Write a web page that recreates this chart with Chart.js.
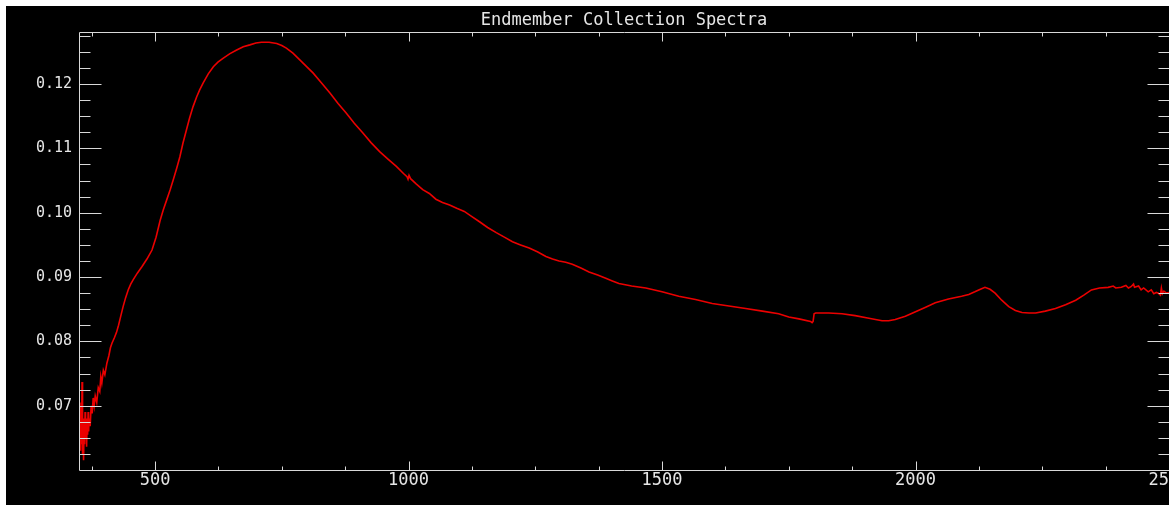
<!DOCTYPE html>
<html>
<head>
<meta charset="utf-8">
<script src="https://cdn.jsdelivr.net/npm/chart.js@4/dist/chart.umd.min.js"></script>
<style>
  html, body { margin: 0; padding: 0; background: #ffffff; overflow: hidden; width: 1169px; height: 505px; }
  #frame { position: absolute; left: 6px; top: 6px; width: 1163px; height: 499px; background: #000000; overflow: hidden; }
  #c { position: absolute; left: 0; top: 0; }
</style>
</head>
<body>
<div id="frame"><canvas id="c" width="1200" height="499" style="width:1200px;height:499px"></canvas></div>
<script>
// ---- data ----
const titleText = 'Endmember Collection Spectra';
const wavelengths = [
  350,351,352,353,354,355,356,357,358,359,360,361,362,363,364,365,366,367,368,369,370,
  372,374,376,378,380,382,385,388,391,393,395,398,401,405,409,412,415,420,424,428,432,
  437,442,447,452,457,465,474,484,494,502,510,516,523,530,537,543,549,555,562,568,575,
  582,588,595,605,615,624,634,647,661,674,687,699,710,725,740,750,759,772,785,798,812,
  828,845,861,877,893,910,926,943,960,976,990,997,999,1001,1004,1015,1028,1041,1054,1067,
  1081,1095,1110,1125,1140,1156,1173,1189,1205,1221,1238,1255,1271,1284,1297,1310,1323,
  1340,1356,1373,1389,1402,1415,1440,1468,1500,1533,1566,1599,1632,1665,1698,1730,1750,
  1770,1793,1796,1798,1800,1803,1829,1855,1881,1908,1934,1947,1960,1980,2000,2020,2039,
  2065,2091,2105,2117,2128,2137,2147,2157,2170,2184,2197,2210,2224,2237,2256,2276,2296,
  2316,2332,2347,2363,2380,2390,2395,2406,2415,2420,2425,2430,2432,2440,2445,2450,2459,
  2465,2470,2475,2479,2483,2485,2487,2490,2495,2500
];
const reflectance = [
  0.0700,0.0655,0.0690,0.0630,0.0705,0.0640,0.0737,0.0625,0.0680,0.0615,0.0665,0.0640,0.0690,0.0650,0.0680,0.0636,0.0672,0.0655,0.0690,0.0660,0.0680,
  0.0668,0.0700,0.0688,0.0712,0.0700,0.0715,0.0705,0.0728,0.0722,0.0745,0.0735,0.0755,0.0748,0.0766,0.0778,0.0790,0.0797,0.0806,0.0814,0.0825,0.0838,
  0.0854,0.0868,0.0880,0.0889,0.0896,0.0906,0.0916,0.0928,0.0942,0.0962,0.0988,0.1004,0.1020,0.1036,0.1054,0.1070,0.1087,0.1108,0.1129,0.1147,0.1165,
  0.1180,0.1191,0.1202,0.1216,0.1227,0.1234,0.1240,0.1247,0.1253,0.1258,0.1261,0.1264,0.1265,0.1265,0.1263,0.1260,0.1256,0.1248,0.1238,0.1228,0.1217,
  0.1202,0.1186,0.1170,0.1155,0.1139,0.1124,0.1109,0.1095,0.1083,0.1072,0.1061,0.1056,0.1052,0.1058,0.1053,0.1045,0.1036,0.1030,0.1021,0.1016,
  0.1012,0.1007,0.1002,0.0994,0.0986,0.0977,0.0969,0.0962,0.0955,0.0950,0.0945,0.0939,0.0932,0.0928,0.0925,0.0923,0.0920,
  0.0914,0.0908,0.0903,0.0898,0.0894,0.0890,0.0886,0.0883,0.0877,0.0870,0.0865,0.0859,0.0855,0.0851,0.0847,0.0843,0.0838,
  0.0835,0.0831,0.0829,0.0831,0.0843,0.0844,0.0844,0.0843,0.0840,0.0836,0.0832,0.0832,0.0834,0.0839,0.0846,0.0853,0.0860,
  0.0866,0.0870,0.0873,0.0877,0.0881,0.0884,0.0881,0.0875,0.0864,0.0854,0.0848,0.0845,0.0844,0.0844,0.0847,0.0851,0.0857,
  0.0864,0.0872,0.0880,0.0883,0.0884,0.0886,0.0883,0.0884,0.0887,0.0883,0.0885,0.0889,0.0884,0.0886,0.0880,0.0883,0.0877,
  0.0880,0.0874,0.0876,0.0875,0.0872,0.0883,0.0874,0.0878,0.0875,0.0876
];
const xMajorTicks = [500, 1000, 1500, 2000, 2500];
const xTickLabels = ['500', '1000', '1500', '2000', '2500'];
const yMajorTicks = [0.07, 0.08, 0.09, 0.10, 0.11, 0.12];
const yTickLabels = ['0.07', '0.08', '0.09', '0.10', '0.11', '0.12'];
const xMin = 350, xMax = 2500, xMinorStep = 125;
const yMin = 0.06, yMax = 0.1281, yMinorStep = 0.0025;

// ---- styling ----
const AXIS_COLOR = '#d9d9d9';
const TEXT_COLOR = '#e6e6e6';
const FONT = "'DejaVu Sans Mono', 'Liberation Mono', monospace";

const points = wavelengths.map((w, i) => ({ x: w, y: reflectance[i] }));

// IDL-style box axes with inward ticks, positioned through the chart's scales
const idlAxes = {
  id: 'idlAxes',
  afterDatasetsDraw(chart) {
    const { ctx, chartArea: a, scales } = chart;
    const xs = scales.x, ys = scales.y;
    ctx.save();
    ctx.strokeStyle = AXIS_COLOR;
    ctx.lineWidth = 1;
    const L = Math.floor(a.left) + 0.5, R = Math.floor(a.right) + 0.5;
    const T = Math.floor(a.top) + 0.5, B = Math.floor(a.bottom) + 0.5;
    ctx.beginPath();
    ctx.moveTo(L, T); ctx.lineTo(R, T);
    ctx.moveTo(L, T); ctx.lineTo(L, B);
    ctx.moveTo(L, B); ctx.lineTo(R, B);
    ctx.moveTo(R, T); ctx.lineTo(R, B);
    // x ticks (top and bottom)
    const xStart = Math.ceil(xMin / xMinorStep) * xMinorStep;
    for (let v = xStart; v <= xMax + 1e-6; v += xMinorStep) {
      if (v <= xMin) continue;
      const major = xMajorTicks.includes(Math.round(v));
      const len = major ? 9 : 4;
      const px = Math.round(xs.getPixelForValue(v)) + 0.5;
      ctx.moveTo(px, B); ctx.lineTo(px, B - len);
      ctx.moveTo(px, T); ctx.lineTo(px, T + len);
    }
    // y ticks (left and right)
    for (let k = 1; yMin + k * yMinorStep < yMax; k++) {
      const v = yMin + k * yMinorStep;
      const major = (k % 4) === 0;
      const len = major ? 22 : 11;
      const py = Math.round(ys.getPixelForValue(v)) + 0.5;
      ctx.moveTo(L, py); ctx.lineTo(L + len, py);
      ctx.moveTo(R, py); ctx.lineTo(R - len, py);
    }
    ctx.stroke();
    ctx.restore();
  }
};

new Chart(document.getElementById('c'), {
  type: 'line',
  data: {
    datasets: [{
      data: points,
      borderColor: 'rgb(235,0,0)',
      borderWidth: 1.6,
      pointRadius: 0,
      tension: 0,
      fill: false
    }]
  },
  options: {
    responsive: false,
    animation: false,
    devicePixelRatio: 1,
    layout: { padding: { left: 0, top: 0, right: 37, bottom: 0 } },
    plugins: {
      legend: { display: false },
      tooltip: { enabled: false },
      title: {
        display: true,
        text: titleText,
        fullSize: false,
        color: TEXT_COLOR,
        font: { family: FONT, size: 17, weight: 'normal', lineHeight: 1.2 },
        padding: { top: 4.3, bottom: 1.3 }
      }
    },
    scales: {
      x: {
        type: 'linear',
        position: 'bottom',
        min: xMin, max: xMax,
        grid: { display: false, drawTicks: false },
        border: { display: false },
        afterBuildTicks: (s) => { s.ticks = xMajorTicks.map(v => ({ value: v })); },
        afterFit: (s) => { s.height = 35; },
        ticks: {
          autoSkip: false, maxRotation: 0, padding: 0,
          color: TEXT_COLOR,
          font: { family: FONT, size: 17 },
          callback: (v) => xTickLabels[xMajorTicks.indexOf(v)]
        }
      },
      y: {
        type: 'linear',
        position: 'left',
        min: yMin, max: yMax,
        grid: { display: false, drawTicks: false },
        border: { display: false },
        afterBuildTicks: (s) => { s.ticks = yMajorTicks.map(v => ({ value: v })); },
        afterFit: (s) => { s.width = 73; },
        ticks: {
          autoSkip: false, padding: 7,
          color: TEXT_COLOR,
          font: { family: FONT, size: 15 },
          callback: (v) => yTickLabels[yMajorTicks.findIndex(t => Math.abs(t - v) < 1e-9)]
        }
      }
    }
  },
  plugins: [idlAxes]
});
</script>
</body>
</html>
